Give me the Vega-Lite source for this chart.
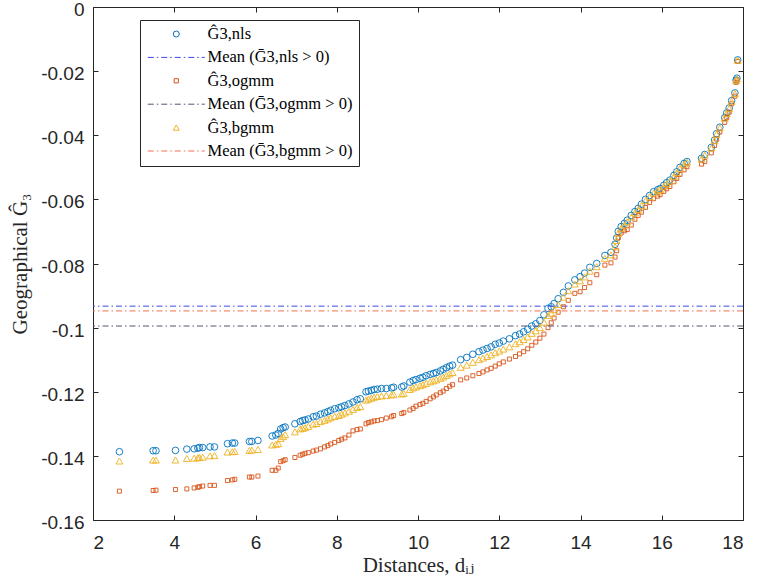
{
  "$schema": "https://vega.github.io/schema/vega-lite/v6.json",
  "width": 650,
  "height": 513,
  "autosize": "none",
  "padding": {"left": 93, "top": 7, "right": 17, "bottom": 64},
  "background": "white",
  "config": {
    "view": {"stroke": null},
    "axis": {
      "grid": false,
      "domainColor": "#262626",
      "domainWidth": 1,
      "tickColor": "#262626",
      "tickWidth": 1,
      "tickSize": -5,
      "labelColor": "#262626",
      "labelFont": "Liberation Sans",
      "labelFontSize": 19,
      "labelPadding": 14,
      "titleFont": "Liberation Serif, DejaVu Serif",
      "titleFontSize": 21,
      "titleFontWeight": "normal",
      "titleColor": "#262626"
    },
    "legend": {
      "title": null,
      "orient": "none", "legendX": 47, "legendY": 13,
      "strokeColor": "#262626", "fillColor": "white", "padding": 6,
      "labelFont": "Liberation Serif, DejaVu Serif", "labelFontSize": 16.5, "labelColor": "#000000",
      "rowPadding": 6.4, "clipHeight": 16,
      "symbolSize": 36, "symbolStrokeWidth": 1,
      "symbolOffset": 22, "labelOffset": 23
    }
  },
  "datasets": {
    "g3rows": [
      {"d": 2.65, "nls": -0.1387, "ogmm": -0.1510, "bgmm": -0.1416},
      {"d": 3.48, "nls": -0.1384, "ogmm": -0.1508, "bgmm": -0.1413},
      {"d": 3.55, "nls": -0.1384, "ogmm": -0.1507, "bgmm": -0.1413},
      {"d": 4.03, "nls": -0.1383, "ogmm": -0.1505, "bgmm": -0.1413},
      {"d": 4.31, "nls": -0.1379, "ogmm": -0.1503, "bgmm": -0.1408},
      {"d": 4.49, "nls": -0.1378, "ogmm": -0.1500, "bgmm": -0.1407},
      {"d": 4.58, "nls": -0.1376, "ogmm": -0.1498, "bgmm": -0.1406},
      {"d": 4.62, "nls": -0.1374, "ogmm": -0.1496, "bgmm": -0.1405},
      {"d": 4.70, "nls": -0.1374, "ogmm": -0.1494, "bgmm": -0.1404},
      {"d": 4.88, "nls": -0.1372, "ogmm": -0.1492, "bgmm": -0.1400},
      {"d": 4.99, "nls": -0.1372, "ogmm": -0.1492, "bgmm": -0.1399},
      {"d": 5.31, "nls": -0.1362, "ogmm": -0.1477, "bgmm": -0.1388},
      {"d": 5.43, "nls": -0.1360, "ogmm": -0.1475, "bgmm": -0.1387},
      {"d": 5.49, "nls": -0.1360, "ogmm": -0.1473, "bgmm": -0.1386},
      {"d": 5.85, "nls": -0.1355, "ogmm": -0.1466, "bgmm": -0.1383},
      {"d": 5.91, "nls": -0.1355, "ogmm": -0.1466, "bgmm": -0.1382},
      {"d": 6.06, "nls": -0.1352, "ogmm": -0.1463, "bgmm": -0.1380},
      {"d": 6.41, "nls": -0.1338, "ogmm": -0.1445, "bgmm": -0.1366},
      {"d": 6.50, "nls": -0.1335, "ogmm": -0.1445, "bgmm": -0.1364},
      {"d": 6.56, "nls": -0.1330, "ogmm": -0.1438, "bgmm": -0.1362},
      {"d": 6.62, "nls": -0.1316, "ogmm": -0.1418, "bgmm": -0.1346},
      {"d": 6.68, "nls": -0.1312, "ogmm": -0.1415, "bgmm": -0.1340},
      {"d": 6.73, "nls": -0.1310, "ogmm": -0.1412, "bgmm": -0.1334},
      {"d": 6.97, "nls": -0.1300, "ogmm": -0.1405, "bgmm": -0.1325},
      {"d": 7.10, "nls": -0.1293, "ogmm": -0.1398, "bgmm": -0.1316},
      {"d": 7.16, "nls": -0.1290, "ogmm": -0.1395, "bgmm": -0.1314},
      {"d": 7.22, "nls": -0.1288, "ogmm": -0.1392, "bgmm": -0.1312},
      {"d": 7.30, "nls": -0.1285, "ogmm": -0.1390, "bgmm": -0.1308},
      {"d": 7.42, "nls": -0.1278, "ogmm": -0.1385, "bgmm": -0.1301},
      {"d": 7.50, "nls": -0.1276, "ogmm": -0.1382, "bgmm": -0.1299},
      {"d": 7.60, "nls": -0.1270, "ogmm": -0.1378, "bgmm": -0.1293},
      {"d": 7.70, "nls": -0.1266, "ogmm": -0.1372, "bgmm": -0.1289},
      {"d": 7.78, "nls": -0.1262, "ogmm": -0.1368, "bgmm": -0.1285},
      {"d": 7.85, "nls": -0.1258, "ogmm": -0.1363, "bgmm": -0.1281},
      {"d": 7.95, "nls": -0.1253, "ogmm": -0.1358, "bgmm": -0.1277},
      {"d": 8.05, "nls": -0.1250, "ogmm": -0.1352, "bgmm": -0.1274},
      {"d": 8.12, "nls": -0.1247, "ogmm": -0.1348, "bgmm": -0.1270},
      {"d": 8.20, "nls": -0.1243, "ogmm": -0.1344, "bgmm": -0.1266},
      {"d": 8.30, "nls": -0.1238, "ogmm": -0.1335, "bgmm": -0.1261},
      {"d": 8.40, "nls": -0.1232, "ogmm": -0.1322, "bgmm": -0.1255},
      {"d": 8.50, "nls": -0.1225, "ogmm": -0.1318, "bgmm": -0.1249},
      {"d": 8.58, "nls": -0.1222, "ogmm": -0.1316, "bgmm": -0.1246},
      {"d": 8.72, "nls": -0.1200, "ogmm": -0.1300, "bgmm": -0.1226},
      {"d": 8.78, "nls": -0.1198, "ogmm": -0.1296, "bgmm": -0.1223},
      {"d": 8.85, "nls": -0.1196, "ogmm": -0.1294, "bgmm": -0.1220},
      {"d": 8.92, "nls": -0.1193, "ogmm": -0.1291, "bgmm": -0.1217},
      {"d": 9.00, "nls": -0.1192, "ogmm": -0.1290, "bgmm": -0.1215},
      {"d": 9.10, "nls": -0.1190, "ogmm": -0.1287, "bgmm": -0.1213},
      {"d": 9.22, "nls": -0.1190, "ogmm": -0.1282, "bgmm": -0.1212},
      {"d": 9.35, "nls": -0.1188, "ogmm": -0.1278, "bgmm": -0.1210},
      {"d": 9.40, "nls": -0.1186, "ogmm": -0.1274, "bgmm": -0.1208},
      {"d": 9.60, "nls": -0.1185, "ogmm": -0.1268, "bgmm": -0.1207},
      {"d": 9.65, "nls": -0.1182, "ogmm": -0.1265, "bgmm": -0.1205},
      {"d": 9.80, "nls": -0.1170, "ogmm": -0.1257, "bgmm": -0.1193},
      {"d": 9.88, "nls": -0.1165, "ogmm": -0.1252, "bgmm": -0.1188},
      {"d": 9.95, "nls": -0.1162, "ogmm": -0.1245, "bgmm": -0.1185},
      {"d": 10.05, "nls": -0.1158, "ogmm": -0.1240, "bgmm": -0.1181},
      {"d": 10.12, "nls": -0.1155, "ogmm": -0.1236, "bgmm": -0.1178},
      {"d": 10.20, "nls": -0.1150, "ogmm": -0.1230, "bgmm": -0.1174},
      {"d": 10.30, "nls": -0.1146, "ogmm": -0.1222, "bgmm": -0.1169},
      {"d": 10.38, "nls": -0.1143, "ogmm": -0.1216, "bgmm": -0.1166},
      {"d": 10.45, "nls": -0.1140, "ogmm": -0.1210, "bgmm": -0.1163},
      {"d": 10.55, "nls": -0.1135, "ogmm": -0.1203, "bgmm": -0.1158},
      {"d": 10.62, "nls": -0.1130, "ogmm": -0.1198, "bgmm": -0.1154},
      {"d": 10.70, "nls": -0.1125, "ogmm": -0.1190, "bgmm": -0.1149},
      {"d": 10.78, "nls": -0.1120, "ogmm": -0.1183, "bgmm": -0.1144},
      {"d": 10.85, "nls": -0.1117, "ogmm": -0.1178, "bgmm": -0.1140},
      {"d": 11.05, "nls": -0.1100, "ogmm": -0.1163, "bgmm": -0.1124},
      {"d": 11.20, "nls": -0.1093, "ogmm": -0.1157, "bgmm": -0.1117},
      {"d": 11.35, "nls": -0.1083, "ogmm": -0.1150, "bgmm": -0.1108},
      {"d": 11.50, "nls": -0.1075, "ogmm": -0.1143, "bgmm": -0.1100},
      {"d": 11.60, "nls": -0.1070, "ogmm": -0.1138, "bgmm": -0.1095},
      {"d": 11.70, "nls": -0.1065, "ogmm": -0.1132, "bgmm": -0.1090},
      {"d": 11.80, "nls": -0.1060, "ogmm": -0.1127, "bgmm": -0.1085},
      {"d": 11.90, "nls": -0.1052, "ogmm": -0.1120, "bgmm": -0.1078},
      {"d": 12.00, "nls": -0.1048, "ogmm": -0.1113, "bgmm": -0.1073},
      {"d": 12.10, "nls": -0.1042, "ogmm": -0.1107, "bgmm": -0.1067},
      {"d": 12.25, "nls": -0.1035, "ogmm": -0.1098, "bgmm": -0.1060},
      {"d": 12.40, "nls": -0.1025, "ogmm": -0.1090, "bgmm": -0.1050},
      {"d": 12.50, "nls": -0.1020, "ogmm": -0.1082, "bgmm": -0.1044},
      {"d": 12.60, "nls": -0.1013, "ogmm": -0.1075, "bgmm": -0.1037},
      {"d": 12.70, "nls": -0.1005, "ogmm": -0.1066, "bgmm": -0.1029},
      {"d": 12.80, "nls": -0.0995, "ogmm": -0.1055, "bgmm": -0.1018},
      {"d": 12.90, "nls": -0.0988, "ogmm": -0.1045, "bgmm": -0.1010},
      {"d": 13.00, "nls": -0.0978, "ogmm": -0.1033, "bgmm": -0.1000},
      {"d": 13.10, "nls": -0.0960, "ogmm": -0.1020, "bgmm": -0.0983},
      {"d": 13.20, "nls": -0.0940, "ogmm": -0.1000, "bgmm": -0.0962},
      {"d": 13.28, "nls": -0.0935, "ogmm": -0.0985, "bgmm": -0.0955},
      {"d": 13.35, "nls": -0.0925, "ogmm": -0.0970, "bgmm": -0.0944},
      {"d": 13.45, "nls": -0.0910, "ogmm": -0.0952, "bgmm": -0.0928},
      {"d": 13.58, "nls": -0.0890, "ogmm": -0.0935, "bgmm": -0.0905},
      {"d": 13.70, "nls": -0.0870, "ogmm": -0.0915, "bgmm": -0.0885},
      {"d": 13.86, "nls": -0.0851, "ogmm": -0.0893, "bgmm": -0.0864},
      {"d": 13.99, "nls": -0.0841, "ogmm": -0.0888, "bgmm": -0.0854},
      {"d": 14.10, "nls": -0.0830, "ogmm": -0.0875, "bgmm": -0.0842},
      {"d": 14.23, "nls": -0.0812, "ogmm": -0.0860, "bgmm": -0.0824},
      {"d": 14.40, "nls": -0.0800, "ogmm": -0.0835, "bgmm": -0.0810},
      {"d": 14.60, "nls": -0.0775, "ogmm": -0.0805, "bgmm": -0.0784},
      {"d": 14.75, "nls": -0.0765, "ogmm": -0.0798, "bgmm": -0.0773},
      {"d": 14.85, "nls": -0.0740, "ogmm": -0.0780, "bgmm": -0.0748},
      {"d": 14.89, "nls": -0.0720, "ogmm": -0.0760, "bgmm": -0.0728},
      {"d": 14.93, "nls": -0.0700, "ogmm": -0.0720, "bgmm": -0.0706},
      {"d": 15.00, "nls": -0.0685, "ogmm": -0.0705, "bgmm": -0.0690},
      {"d": 15.08, "nls": -0.0675, "ogmm": -0.0698, "bgmm": -0.0680},
      {"d": 15.15, "nls": -0.0665, "ogmm": -0.0694, "bgmm": -0.0670},
      {"d": 15.25, "nls": -0.0650, "ogmm": -0.0680, "bgmm": -0.0655},
      {"d": 15.34, "nls": -0.0638, "ogmm": -0.0662, "bgmm": -0.0642},
      {"d": 15.42, "nls": -0.0628, "ogmm": -0.0650, "bgmm": -0.0632},
      {"d": 15.50, "nls": -0.0615, "ogmm": -0.0640, "bgmm": -0.0619},
      {"d": 15.60, "nls": -0.0600, "ogmm": -0.0625, "bgmm": -0.0604},
      {"d": 15.70, "nls": -0.0588, "ogmm": -0.0610, "bgmm": -0.0592},
      {"d": 15.80, "nls": -0.0576, "ogmm": -0.0598, "bgmm": -0.0580},
      {"d": 15.90, "nls": -0.0570, "ogmm": -0.0590, "bgmm": -0.0573},
      {"d": 15.96, "nls": -0.0566, "ogmm": -0.0585, "bgmm": -0.0569},
      {"d": 16.05, "nls": -0.0556, "ogmm": -0.0575, "bgmm": -0.0559},
      {"d": 16.12, "nls": -0.0548, "ogmm": -0.0567, "bgmm": -0.0551},
      {"d": 16.20, "nls": -0.0540, "ogmm": -0.0560, "bgmm": -0.0543},
      {"d": 16.30, "nls": -0.0525, "ogmm": -0.0545, "bgmm": -0.0528},
      {"d": 16.37, "nls": -0.0514, "ogmm": -0.0535, "bgmm": -0.0517},
      {"d": 16.45, "nls": -0.0500, "ogmm": -0.0522, "bgmm": -0.0503},
      {"d": 16.55, "nls": -0.0488, "ogmm": -0.0508, "bgmm": -0.0490},
      {"d": 16.62, "nls": -0.0482, "ogmm": -0.0498, "bgmm": -0.0484},
      {"d": 16.98, "nls": -0.0472, "ogmm": -0.0490, "bgmm": -0.0474},
      {"d": 17.06, "nls": -0.0460, "ogmm": -0.0482, "bgmm": -0.0462},
      {"d": 17.22, "nls": -0.0438, "ogmm": -0.0455, "bgmm": -0.0440},
      {"d": 17.30, "nls": -0.0415, "ogmm": -0.0432, "bgmm": -0.0417},
      {"d": 17.35, "nls": -0.0395, "ogmm": -0.0412, "bgmm": -0.0397},
      {"d": 17.43, "nls": -0.0375, "ogmm": -0.0390, "bgmm": -0.0377},
      {"d": 17.55, "nls": -0.0345, "ogmm": -0.0360, "bgmm": -0.0347},
      {"d": 17.60, "nls": -0.0330, "ogmm": -0.0345, "bgmm": -0.0332},
      {"d": 17.66, "nls": -0.0315, "ogmm": -0.0328, "bgmm": -0.0317},
      {"d": 17.72, "nls": -0.0292, "ogmm": -0.0302, "bgmm": -0.0294},
      {"d": 17.80, "nls": -0.0268, "ogmm": -0.0278, "bgmm": -0.0270},
      {"d": 17.83, "nls": -0.0228, "ogmm": -0.0235, "bgmm": -0.0230},
      {"d": 17.85, "nls": -0.0222, "ogmm": -0.0228, "bgmm": -0.0224},
      {"d": 17.87, "nls": -0.0165, "ogmm": -0.0170, "bgmm": -0.0166}
    ]
  },
  "resolve": {"axis": {"x": "independent", "y": "independent"}},
  "layer": [
    {
      "data": {"name": "g3rows"},
      "transform": [{"fold": ["nls"], "as": ["series", "g3"]}],
      "mark": {"type": "point", "filled": false, "opacity": 1, "strokeWidth": 0.9, "size": 44},
      "encoding": {
        "x": {
          "field": "d", "type": "quantitative",
          "scale": {"domain": [2, 18], "nice": false, "zero": false},
          "axis": {
            "orient": "bottom",
            "values": [2, 4, 6, 8, 10, 12, 14, 16, 18],
            "format": "d",
            "labelPadding": 18,
            "title": "Distances, dᵢⱼ",
            "titleX": 325, "titleY": 51,
            "titleAlign": "center", "titleBaseline": "alphabetic"
          }
        },
        "y": {
          "field": "g3", "type": "quantitative",
          "scale": {"domain": [-0.16, 0], "nice": false, "zero": false},
          "axis": {
            "orient": "left",
            "values": [-0.16, -0.14, -0.12, -0.1, -0.08, -0.06, -0.04, -0.02, 0],
            "labelExpr": "replace(format(datum.value, '~g'), '−', '-')",
            "labelOffset": 2.5,
            "title": "Geographical Ĝ₃",
            "titleX": -67, "titleY": 256.5,
            "titleAlign": "center", "titleBaseline": "alphabetic", "titleAngle": -90
          }
        },
        "color": {
          "field": "series", "type": "nominal",
          "scale": {
            "domain": ["nls", "mean_nls", "ogmm", "mean_ogmm", "bgmm", "mean_bgmm"],
            "range": ["#0072BD", "#3F48E8", "#D95319", "#55556E", "#EDB120", "#F2704E"]
          },
          "legend": {
            "labelExpr": "datum.value === 'nls' ? 'Ĝ3,nls' : datum.value === 'mean_nls' ? 'Mean (Ḡ3,nls > 0)' : datum.value === 'ogmm' ? 'Ĝ3,ogmm' : datum.value === 'mean_ogmm' ? 'Mean (Ḡ3,ogmm > 0)' : datum.value === 'bgmm' ? 'Ĝ3,bgmm' : 'Mean (Ḡ3,bgmm > 0)'"
          }
        },
        "shape": {
          "field": "series", "type": "nominal",
          "scale": {
            "domain": ["nls", "mean_nls", "ogmm", "mean_ogmm", "bgmm", "mean_bgmm"],
            "range": [
              "circle",
              "M-9.5,0H-7.5M-6.5,0H-6M-5,0H-3M-2,0H-1.5M-0.5,0H1.5M2.5,0H3M4,0H6M7,0H7.5M8.5,0H9.5",
              "M-0.7,-0.7H0.7V0.7H-0.7Z",
              "M-9.5,0H-7.5M-6.5,0H-6M-5,0H-3M-2,0H-1.5M-0.5,0H1.5M2.5,0H3M4,0H6M7,0H7.5M8.5,0H9.5",
              "triangle-up",
              "M-9.5,0H-7.5M-6.5,0H-6M-5,0H-3M-2,0H-1.5M-0.5,0H1.5M2.5,0H3M4,0H6M7,0H7.5M8.5,0H9.5"
            ]
          },
          "legend": {
            "labelExpr": "datum.value === 'nls' ? 'Ĝ3,nls' : datum.value === 'mean_nls' ? 'Mean (Ḡ3,nls > 0)' : datum.value === 'ogmm' ? 'Ĝ3,ogmm' : datum.value === 'mean_ogmm' ? 'Mean (Ḡ3,ogmm > 0)' : datum.value === 'bgmm' ? 'Ĝ3,bgmm' : 'Mean (Ḡ3,bgmm > 0)'"
          }
        }
      }
    },
    {
      "data": {"values": [{"series": "mean_nls", "g3": -0.0933}]},
      "mark": {"type": "rule", "strokeWidth": 1, "strokeDash": [6, 3, 1.5, 3]},
      "encoding": {
        "y": {"field": "g3", "type": "quantitative", "axis": null},
        "color": {"field": "series", "type": "nominal"}
      }
    },
    {
      "data": {"name": "g3rows"},
      "transform": [{"fold": ["ogmm"], "as": ["series", "g3"]}],
      "mark": {"type": "point", "filled": false, "opacity": 1, "strokeWidth": 0.9, "size": 33},
      "encoding": {
        "x": {
          "field": "d", "type": "quantitative",
          "axis": {"orient": "top", "values": [2, 4, 6, 8, 10, 12, 14, 16, 18], "labels": false, "title": null}
        },
        "y": {
          "field": "g3", "type": "quantitative",
          "axis": {"orient": "right", "values": [-0.16, -0.14, -0.12, -0.1, -0.08, -0.06, -0.04, -0.02, 0], "labels": false, "title": null}
        },
        "color": {"field": "series", "type": "nominal"},
        "shape": {"field": "series", "type": "nominal"}
      }
    },
    {
      "data": {"values": [{"series": "mean_ogmm", "g3": -0.0995}]},
      "mark": {"type": "rule", "strokeWidth": 1, "strokeDash": [6, 3, 1.5, 3]},
      "encoding": {
        "y": {"field": "g3", "type": "quantitative", "axis": null},
        "color": {"field": "series", "type": "nominal"}
      }
    },
    {
      "data": {"name": "g3rows"},
      "transform": [{"fold": ["bgmm"], "as": ["series", "g3"]}],
      "mark": {"type": "point", "filled": false, "opacity": 1, "strokeWidth": 0.9, "size": 48},
      "encoding": {
        "x": {"field": "d", "type": "quantitative", "axis": null},
        "y": {"field": "g3", "type": "quantitative", "axis": null},
        "color": {"field": "series", "type": "nominal"},
        "shape": {"field": "series", "type": "nominal"}
      }
    },
    {
      "data": {"values": [{"series": "mean_bgmm", "g3": -0.0948}]},
      "mark": {"type": "rule", "strokeWidth": 1, "strokeDash": [6, 3, 1.5, 3]},
      "encoding": {
        "y": {"field": "g3", "type": "quantitative", "axis": null},
        "color": {"field": "series", "type": "nominal"}
      }
    }
  ]
}
